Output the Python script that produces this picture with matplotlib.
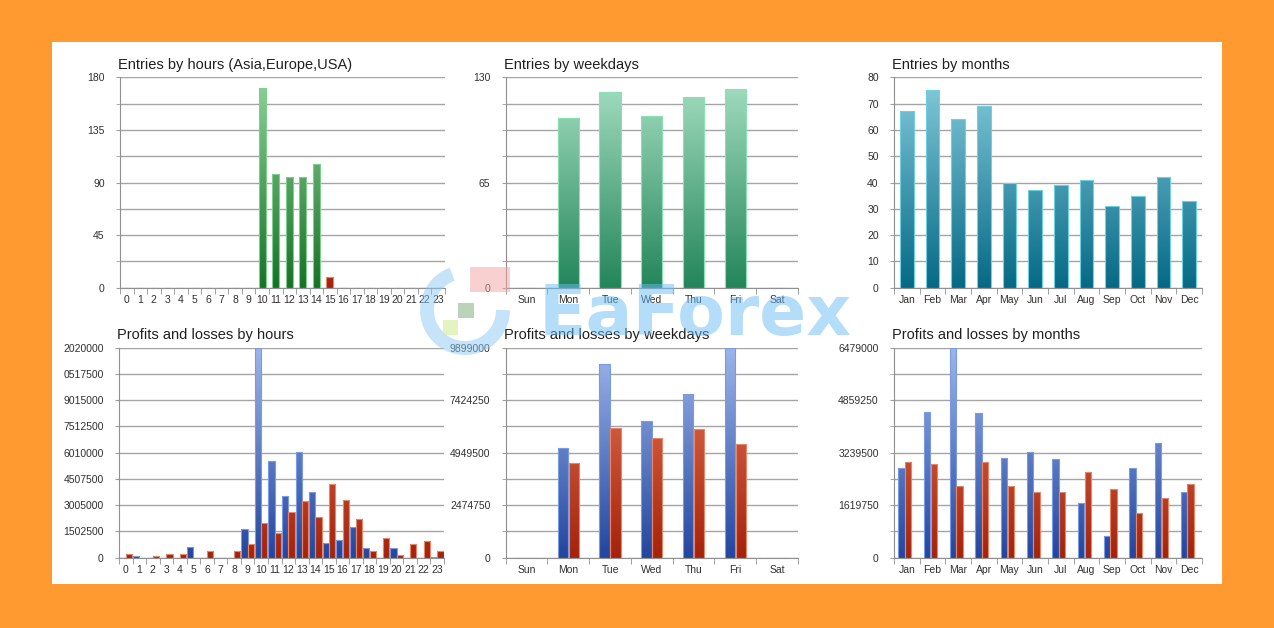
import numpy as np
import matplotlib.pyplot as plt
from matplotlib.colors import LinearSegmentedColormap
from matplotlib.patches import Rectangle, Arc

plt.rcParams['font.family'] = ['Liberation Sans', 'DejaVu Sans']

# data
hours = [str(h) for h in range(24)]
weekdays = ['Sun', 'Mon', 'Tue', 'Wed', 'Thu', 'Fri', 'Sat']
months = ['Jan', 'Feb', 'Mar', 'Apr', 'May', 'Jun', 'Jul', 'Aug', 'Sep', 'Oct', 'Nov', 'Dec']

hour_entries = [0, 0, 0, 0, 0, 0, 0, 0, 0, 0, 171, 97, 95, 95, 106, 9, 0, 0, 0, 0, 0, 0, 0, 0]
weekday_entries = [0, 105, 121, 106, 118, 123, 0]
month_entries = [67, 75, 64, 69, 40, 37, 39, 41, 31, 35, 42, 33]

hour_profits = [0, 115000, 0, 0, 0, 590000, 0, 0, 0, 1620000, 12020000, 5550000,
                3550000, 6070000, 3740000, 820000, 1010000, 1740000, 572000, 0, 572000, 0, 0, 30000]
hour_losses = [190000, 0, 95000, 190000, 190000, 0, 380000, 0, 380000, 763000, 1980000, 1390000,
               2610000, 3220000, 2310000, 4200000, 3300000, 2210000, 380000, 1140000, 172000, 763000, 954000, 380000]
weekday_profits = [0, 5150000, 9110000, 6460000, 7700000, 9899000, 0]
weekday_losses = [0, 4450000, 6130000, 5640000, 6070000, 5340000, 0]
month_profits = [2760000, 4510000, 6479000, 4450000, 3070000, 3270000, 3030000, 1680000, 679000, 2770000, 3530000, 2020000]
month_losses = [2940000, 2890000, 2220000, 2960000, 2210000, 2040000, 2030000, 2650000, 2120000, 1380000, 1830000, 2270000]

hour_pl_ticks = [0, 1502500, 3005000, 4507500, 6010000, 7512500, 9015000, 10517500, 12020000]
hour_pl_labels = ['0', '1502500', '3005000', '4507500', '6010000', '7512500', '9015000', '0517500', '2020000']
weekday_pl_ticks = [0, 2474750, 4949500, 7424250, 9899000]
month_pl_ticks = [0, 1619750, 3239500, 4859250, 6479000]

GREEN = ('#8fd29b', '#167226', '#7fcf8c')
RED = ('#e8795c', '#a4230a', '#e6866a')
MINT = ('#a6dfc3', '#23855a', '#86e2b0')
TEAL = ('#86cbdc', '#056985', '#6fd0e4')
BLUE = ('#9db6ea', '#22459e', '#7b9ae6')


def grad_bars(ax, x, h, w, col, ymax):
    top, bot, edge = col
    cmap = LinearSegmentedColormap.from_list('g', [bot, top])
    grad = np.linspace(0, 1, 256).reshape(-1, 1)
    bars = ax.bar(x, h, w, color='none', edgecolor=edge, linewidth=0.8, zorder=3)
    for b in bars:
        if b.get_height() <= 0:
            continue
        x0 = b.get_x()
        im = ax.imshow(grad, extent=(x0, x0 + b.get_width(), 0, ymax), origin='lower',
                       aspect='auto', cmap=cmap, zorder=2)
        im.set_clip_path(b)


def style(ax, labels, ymax, major, labs, minor, title):
    n = len(labels)
    ax.set_xlim(-0.5, n - 0.5)
    ax.set_ylim(0, ymax)
    ax.set_xticks(range(n), labels)
    ax.set_xticks(np.arange(-0.5, n), minor=True)
    ax.tick_params(axis='x', which='major', length=0, pad=5, labelsize=7.5, labelcolor='#303030')
    ax.tick_params(axis='x', which='minor', length=4, color='#909090')
    ax.set_yticks(major, labs)
    if minor is not None:
        ax.set_yticks(minor, minor=True)
    ax.tick_params(axis='y', which='both', length=3, color='#a0a0a0', labelsize=7.5,
                   pad=8, labelcolor='#303030')
    ax.grid(axis='y', which='both', color='#a4a4a4', linewidth=1.0)
    ax.set_axisbelow(True)
    for s in ['top', 'right']:
        ax.spines[s].set_visible(False)
    for s in ['left', 'bottom']:
        ax.spines[s].set_color('#909090')
    ax.set_title(title, loc='left', pad=6, fontsize=10.5, color='#202020', x=-0.005)


fig = plt.figure(figsize=(12.74, 6.28), dpi=100, facecolor='#ff9a30')
fig.patches.append(Rectangle((52 / 1274, 1 - 584 / 628), 1170 / 1274, 542 / 628,
                             transform=fig.transFigure, facecolor='white', edgecolor='none', zorder=-10))

W, H = 1274, 628
def add_ax(x0, x1, y0, y1):
    return fig.add_axes([x0 / W, 1 - y1 / H, (x1 - x0) / W, (y1 - y0) / H], facecolor='none')

ax1 = add_ax(120, 445, 77.3, 287.7)
ax2 = add_ax(505.7, 798, 77.3, 287.7)
ax3 = add_ax(894, 1202, 77.3, 287.7)
ax4 = add_ax(119, 444, 347.7, 557.7)
ax5 = add_ax(505.7, 798, 347.7, 557.7)
ax6 = add_ax(894, 1202, 347.7, 557.7)

# entries by hours
xh = np.arange(24)
for i, v in enumerate(hour_entries):
    grad_bars(ax1, [xh[i]], [v], 0.52, GREEN if i < 15 else RED, 180)
style(ax1, hours, 180, [0, 45, 90, 135, 180], ['0', '45', '90', '135', '180'],
      np.arange(0, 181, 22.5), 'Entries by hours (Asia,Europe,USA)')

# entries by weekdays
xw = np.arange(7)
grad_bars(ax2, xw, weekday_entries, 0.51, MINT, 130)
style(ax2, weekdays, 130, [0, 65, 130], ['0', '65', '130'], np.arange(0, 131, 16.25),
      'Entries by weekdays')

# entries by months
xm = np.arange(12)
grad_bars(ax3, xm, month_entries, 0.52, TEAL, 80)
style(ax3, months, 80, range(0, 81, 10), [str(v) for v in range(0, 81, 10)], None,
      'Entries by months')

# profits and losses by hours
grad_bars(ax4, xh - 0.235, hour_profits, 0.46, BLUE, 12020000)
grad_bars(ax4, xh + 0.235, hour_losses, 0.46, RED, 12020000)
style(ax4, hours, 12020000, hour_pl_ticks, hour_pl_labels, None, 'Profits and losses by hours')

# profits and losses by weekdays
grad_bars(ax5, xw - 0.13, weekday_profits, 0.25, BLUE, 9899000)
grad_bars(ax5, xw + 0.13, weekday_losses, 0.25, RED, 9899000)
style(ax5, weekdays, 9899000, weekday_pl_ticks, [str(v) for v in weekday_pl_ticks],
      np.arange(0, 9899001, 1237375), 'Profits and losses by weekdays')

# profits and losses by months
grad_bars(ax6, xm - 0.21, month_profits, 0.25, BLUE, 6479000)
grad_bars(ax6, xm + 0.05, month_losses, 0.25, RED, 6479000)
style(ax6, months, 6479000, month_pl_ticks, [str(v) for v in month_pl_ticks],
      np.arange(0, 6479001, 809875), 'Profits and losses by months')

# watermark (logo + text)
fig.patches.append(Rectangle((470 / W, 1 - 292 / H), 40 / W, 25 / H, transform=fig.transFigure,
                             facecolor='#f4a3a3', edgecolor='none', alpha=0.5, zorder=9))
fig.patches.append(Arc((465 / W, 1 - 310 / H), 76 / W, 76 / H, theta1=100, theta2=360,
                       transform=fig.transFigure, color='#8cc8f5', lw=10, alpha=0.5, zorder=9))
fig.patches.append(Rectangle((458 / W, 1 - 318 / H), 16 / W, 15 / H, transform=fig.transFigure,
                             facecolor='#8fb58f', edgecolor='none', alpha=0.6, zorder=9))
fig.patches.append(Rectangle((443 / W, 1 - 335 / H), 15 / W, 15 / H, transform=fig.transFigure,
                             facecolor='#d4ec9c', edgecolor='none', alpha=0.6, zorder=9))
fig.text(695 / W, 1 - 316 / H, 'EaForex', ha='center', va='center', fontsize=50,
         fontweight='bold', family='DejaVu Sans', color='#6bbcf5', alpha=0.5, zorder=10)

fig.savefig('out.png', dpi=100, facecolor=fig.get_facecolor())
